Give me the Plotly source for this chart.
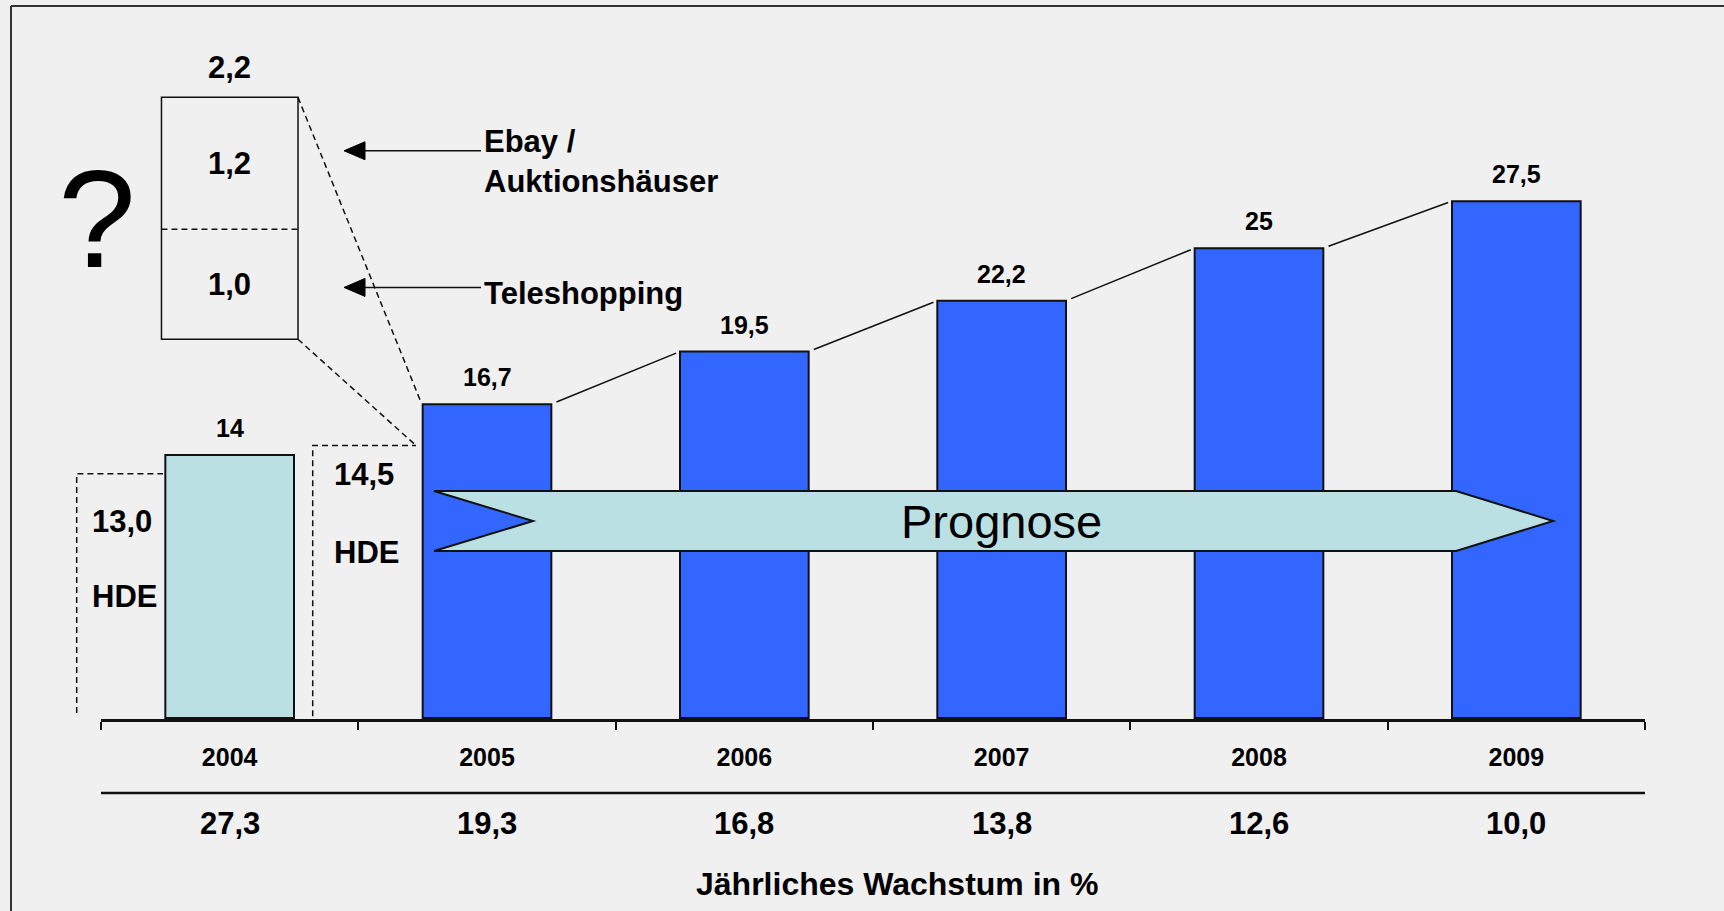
import plotly.graph_objects as go

# ---- data -------------------------------------------------------------
years = ["2004", "2005", "2006", "2007", "2008", "2009"]
volume = [14, 16.7, 19.5, 22.2, 25, 27.5]          # Mrd. EUR per year
growth = [27.3, 19.3, 16.8, 13.8, 12.6, 10.0]       # jährliches Wachstum in %
hde_values = [13.0, 14.5]                           # HDE figures for 2004 / 2005
callout_parts = [1.0, 1.2]                          # Teleshopping, Ebay / Auktionshäuser
callout_names = ["Teleshopping", "Ebay /<br>Auktionshäuser"]
forecast_label = "Prognose"
growth_title = "Jährliches Wachstum in %"

# ---- styling ----------------------------------------------------------
W, H = 1724, 911
M_L, M_R, M_T, M_B = 101, 79, 0, 192
PLOT_H = H - M_T - M_B
BG = "#F0F0F0"
ACTUAL = "#BBE0E3"
FORECAST = "#3366FF"
INK = "#111111"
FONT = "Liberation Sans"
DASH = "6px,4px"


def num(v, digits=None):
    s = f"{v:.{digits}f}" if digits is not None else f"{v:g}"
    return s.replace(".", ",")


def paper_y(px):
    """paper y for a pixel row measured from the top of the figure"""
    return (PLOT_H - px) / PLOT_H


def paper_x(px):
    return (px - M_L) / (W - M_L - M_R)


bold = dict(family=FONT, size=31, color="black", weight="bold")
small_bold = dict(family=FONT, size=25, color="black", weight="bold")

colors = [ACTUAL] + [FORECAST] * (len(years) - 1)

fig = go.Figure()
fig.add_trace(go.Bar(
    x=years, y=volume, width=0.5,
    marker=dict(color=colors, line=dict(color=INK, width=2)),
    hoverinfo="skip",
))

shapes = []
annotations = []

# outer frame: only the left and top edges fall inside the page
frame = dict(color="#333333", width=2)
shapes.append(dict(type="line", xref="paper", yref="paper",
                   x0=paper_x(11), x1=paper_x(11), y0=paper_y(6), y1=paper_y(H + 20),
                   line=frame, layer="below"))
shapes.append(dict(type="line", xref="paper", yref="paper",
                   x0=paper_x(11), x1=paper_x(W + 20), y0=paper_y(6), y1=paper_y(6),
                   line=frame, layer="below"))

# rule between year labels and growth row
shapes.append(dict(type="line", xref="x", yref="paper",
                   x0=-0.5, x1=len(years) - 0.5, y0=paper_y(793), y1=paper_y(793),
                   line=dict(color=INK, width=2.5)))

# connectors between the forecast bar tops
for i in range(1, len(years) - 1):
    xa, ya = i + 0.25, volume[i]
    xb, yb = i + 0.75, volume[i + 1]
    t0, t1 = 0.04, 0.97
    shapes.append(dict(type="line", xref="x", yref="y",
                       x0=xa + (xb - xa) * t0, y0=ya + (yb - ya) * t0,
                       x1=xa + (xb - xa) * t1, y1=ya + (yb - ya) * t1,
                       line=dict(color=INK, width=1.5)))

# HDE bracket 2004 (left of the axis)
bx = paper_x(76.7)
shapes.append(dict(type="path", xref="paper", yref="y",
                   path=f"M {bx},0.27 L {bx},{hde_values[0]} L {paper_x(163)},{hde_values[0]}",
                   line=dict(color=INK, width=1.5, dash=DASH)))
# HDE bracket 2005
shapes.append(dict(type="path", xref="x", yref="y",
                   path=f"M 0.3227,0.1 L 0.3227,{hde_values[1]} L 0.724,{hde_values[1]}",
                   line=dict(color=INK, width=1.5, dash=DASH)))

# callout box magnifying the gap between HDE and total 2005
box_x0, box_x1 = -0.265, 0.2656
box_bottom, box_top = 20.15, 33.02
callout_total = sum(callout_parts)
scale = (box_top - box_bottom) / callout_total
divider = box_bottom + callout_parts[0] * scale
shapes.append(dict(type="rect", xref="x", yref="y",
                   x0=box_x0, x1=box_x1, y0=box_bottom, y1=box_top,
                   line=dict(color=INK, width=1.5)))
shapes.append(dict(type="line", xref="x", yref="y",
                   x0=box_x0, x1=box_x1, y0=divider, y1=divider,
                   line=dict(color=INK, width=1.5, dash=DASH)))
shapes.append(dict(type="line", xref="x", yref="y",
                   x0=box_x1, y0=box_top, x1=0.742, y1=volume[1] + 0.15,
                   line=dict(color=INK, width=1.5, dash=DASH)))
shapes.append(dict(type="line", xref="x", yref="y",
                   x0=box_x1, y0=box_bottom, x1=0.724, y1=hde_values[1],
                   line=dict(color=INK, width=1.5, dash=DASH)))

# arrows pointing at the callout
arrow_tip, arrow_tail = 0.4443, 0.9767
head_len, head_half = 0.0816, 0.479
for ay in (30.18, 22.91):
    shapes.append(dict(type="line", xref="x", yref="y",
                       x0=arrow_tip + head_len, x1=arrow_tail, y0=ay, y1=ay,
                       line=dict(color=INK, width=1.5)))
    shapes.append(dict(type="path", xref="x", yref="y",
                       path=(f"M {arrow_tip},{ay} L {arrow_tip + head_len},{ay + head_half} "
                             f"L {arrow_tip + head_len},{ay - head_half} Z"),
                       fillcolor="black", line=dict(color="black", width=1)))

# forecast arrow band
shapes.append(dict(type="path", xref="x", yref="y",
                   path=("M 0.794,12.08 L 4.766,12.08 L 5.143,10.48 L 4.766,8.89 "
                         "L 0.794,8.89 L 1.179,10.48 Z"),
                   fillcolor=ACTUAL, line=dict(color=INK, width=2)))

# value labels above bars
for i, v in enumerate(volume):
    annotations.append(dict(x=i, y=v, xref="x", yref="y", yshift=27,
                            text=num(v), showarrow=False, font=small_bold))

# growth row
for i, g in enumerate(growth):
    annotations.append(dict(x=i, y=paper_y(823.5), xref="x", yref="paper",
                            xanchor="center", yanchor="middle",
                            text=num(g, 1), showarrow=False, font=bold))
annotations.append(dict(x=paper_x(897), y=paper_y(884), xref="paper", yref="paper",
                        xanchor="center", yanchor="middle",
                        text=growth_title, showarrow=False, font={**bold, "size": 32}))

# HDE labels
annotations += [
    dict(x=-0.418, y=10.48, text=num(hde_values[0], 1)),
    dict(x=-0.410, y=6.49, text="HDE"),
    dict(x=0.522, y=12.98, text=num(hde_values[1], 1)),
    dict(x=0.530, y=8.81, text="HDE"),
]
for a in annotations[-4:]:
    a.update(xref="x", yref="y", showarrow=False, font=bold)

# callout labels
annotations.append(dict(x=0, y=box_top, yshift=30, xref="x", yref="y",
                        text=num(callout_total, 1), showarrow=False, font=bold))
annotations.append(dict(x=0, y=(divider + box_top) / 2, xref="x", yref="y",
                        text=num(callout_parts[1], 1), showarrow=False, font=bold))
annotations.append(dict(x=0, y=(box_bottom + divider) / 2, xref="x", yref="y",
                        text=num(callout_parts[0], 1), showarrow=False, font=bold))
annotations.append(dict(x=0.980, y=29.6, xref="x", yref="y", xanchor="left",
                        align="left", text=callout_names[1], showarrow=False, font=bold))
annotations.append(dict(x=0.980, y=22.61, xref="x", yref="y", xanchor="left",
                        text=callout_names[0], showarrow=False, font=bold))

# question mark and forecast caption
annotations.append(dict(x=paper_x(97), y=paper_y(218), xref="paper", yref="paper",
                        xanchor="center", yanchor="middle",
                        text="?", showarrow=False,
                        font=dict(family=FONT, size=140, color="black")))
annotations.append(dict(x=3.0, y=10.48, xref="x", yref="y", text=forecast_label,
                        showarrow=False, font=dict(family=FONT, size=47, color="black")))

fig.update_layout(
    width=W, height=H,
    margin=dict(l=M_L, r=M_R, t=M_T, b=M_B, pad=0),
    paper_bgcolor=BG, plot_bgcolor=BG,
    showlegend=False, bargap=0.5,
    shapes=shapes, annotations=annotations,
    xaxis=dict(type="category", range=[-0.5, len(years) - 0.5],
               tickson="boundaries", ticks="outside", ticklen=8, tickwidth=2,
               tickcolor=INK, showline=True, linecolor=INK, linewidth=2.5,
               showgrid=False, zeroline=False, tickfont=small_bold,
               ticklabelstandoff=14, fixedrange=True),
    yaxis=dict(range=[-0.05, 38.2], visible=False, showgrid=False,
               zeroline=False, fixedrange=True),
)

fig.write_html("out.html", config={"displayModeBar": False})
